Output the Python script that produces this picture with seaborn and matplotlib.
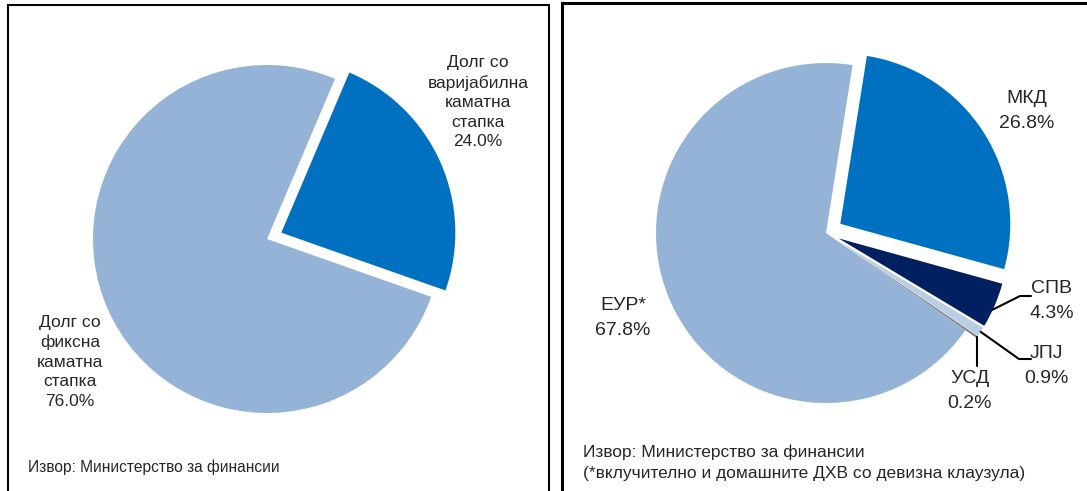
import numpy as np
import matplotlib
matplotlib.use('Agg')
import matplotlib.pyplot as plt
from matplotlib.patches import Rectangle
import seaborn as sns

# Data: interest-rate structure (left) and currency structure (right)
rate_labels = ['Долг со\nваријабилна\nкаматна\nстапка', 'Долг со\nфиксна\nкаматна\nстапка']
rate_shares = [24.0, 76.0]

cur_labels = ['МКД', 'СПВ', 'ЈПЈ', 'УСД', 'ЕУР*']
cur_shares = [26.8, 4.3, 0.9, 0.2, 67.8]

source_left = 'Извор: Министерство за финансии'
source_right = 'Извор: Министерство за финансии\n(*вклучително и домашните ДХВ со девизна клаузула)'

sns.set_theme(style='white')
plt.rcParams['font.family'] = ['Liberation Sans Narrow', 'Liberation Sans', 'DejaVu Sans']

W, H = 1087, 491
fig = plt.figure(figsize=(W / 100, H / 100), dpi=100)
ax = fig.add_axes([0, 0, 1, 1])


def py(y):
    # pixel row (from top) -> data y
    return H - y


# left pie (explode is in data units, so scale by radius)
rl = 174
left_colors = ['#0070C0', '#95B3D7']
wl, _ = ax.pie(rate_shares, colors=left_colors, startangle=67, counterclock=False,
               explode=[0.09 * rl, 0], center=(267, py(239)), radius=rl,
               wedgeprops=dict(linewidth=0), frame=True)

# right pie
rr = 170
right_colors = ['#0070C0', '#002060', '#B9CDE5', '#7F7F7F', '#95B3D7']
wr, _ = ax.pie(cur_shares, colors=right_colors, startangle=81, counterclock=False,
               explode=[0.1 * rr, 0.08 * rr, 0.08 * rr, 0.08 * rr, 0],
               center=(826, py(233)), radius=rr,
               wedgeprops=dict(linewidth=0), frame=True)

ax.set_xlim(0, W)
ax.set_ylim(0, H)
ax.set_aspect('auto')
ax.axis('off')

fs_l, fs_r = 12.5, 14

# left labels
ax.text(478, py(102), f'{rate_labels[0]}\n{rate_shares[0]:.1f}%', ha='center', va='center',
        fontsize=fs_l, linespacing=1.38)
ax.text(70, py(362), f'{rate_labels[1]}\n{rate_shares[1]:.1f}%', ha='center', va='center',
        fontsize=fs_l, linespacing=1.38)
ax.text(28, py(467), source_left, ha='left', va='center', fontsize=11.2)

# right labels
label_pos = {'МКД': (1027, 111), 'СПВ': (1052, 301), 'ЈПЈ': (1046, 366),
             'УСД': (970, 391), 'ЕУР*': (623, 318)}
for lab, val in zip(cur_labels, cur_shares):
    x, y = label_pos[lab]
    ax.text(x, py(y), f'{lab}\n{val:.1f}%', ha='center', va='center',
            fontsize=fs_r, linespacing=1.65)
ax.text(583, py(463), source_right, ha='left', va='center', fontsize=12.5, linespacing=1.5)


# leader lines from the outer arc of the small wedges
def arc_point(w, frac=0.5):
    th = np.deg2rad(w.theta1 + frac * (w.theta2 - w.theta1))
    cx, cy = w.center
    return cx + w.r * np.cos(th), cy + w.r * np.sin(th)

x0, y0 = arc_point(wr[1], 0.4)
ax.plot([x0, 1020, 1031], [y0, py(296), py(296)], color='black', lw=1.5)
x0, y0 = arc_point(wr[2])
ax.plot([x0, 1019, 1031], [y0, py(359), py(359)], color='black', lw=1.5)
x0, y0 = arc_point(wr[3])
ax.plot([x0, x0], [y0, py(366)], color='black', lw=1.5)

# panel frames
ax.add_patch(Rectangle((8, -10), 541, py(5) + 10, fill=False, ec='black', lw=1.5, clip_on=False))
ax.add_patch(Rectangle((562, -10), 560, py(3) + 10, fill=False, ec='black', lw=2.2, clip_on=False))

fig.savefig('out.png', dpi=100)
